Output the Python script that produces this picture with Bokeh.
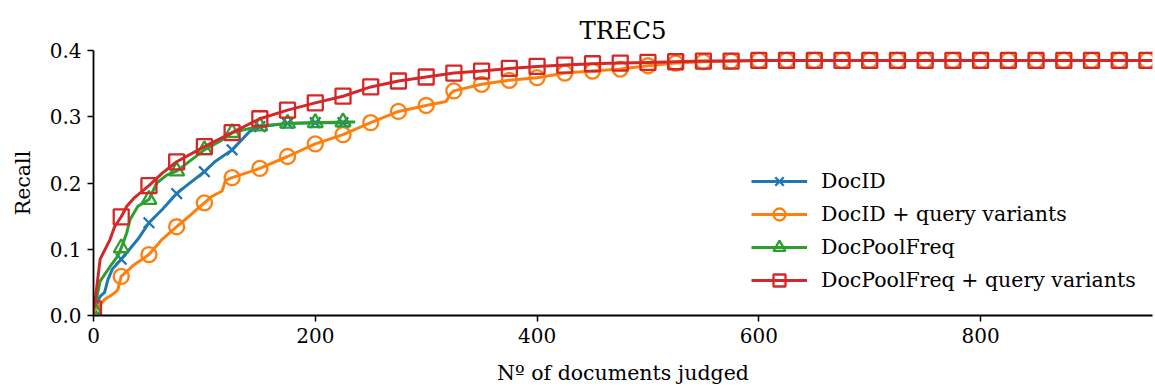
from bokeh.plotting import figure
from bokeh.models import FixedTicker, PrintfTickFormatter, Legend, LegendItem
from bokeh.embed import file_html
from bokeh.resources import INLINE

# ---- data ----
docid_x = [0, 2, 6, 10, 13, 17, 25, 31, 40, 50, 62, 75, 83, 100, 110, 125, 141, 150, 175, 200, 225, 232]
docid_y = [0.010, 0.015, 0.029, 0.035, 0.054, 0.070, 0.085, 0.097, 0.115, 0.140, 0.160, 0.184, 0.195,
           0.217, 0.233, 0.250, 0.278, 0.285, 0.290, 0.291, 0.291, 0.291]

docidq_x = [0, 2, 10, 19, 22, 25, 37, 50, 62, 75, 85, 100, 107, 116, 119, 125, 150, 175, 200, 225, 250,
            275, 300, 318, 322, 325, 350, 375, 400, 425, 450, 475, 500, 525, 550, 575, 600, 625, 650,
            675, 700, 725, 750, 775, 800, 825, 850, 875, 900, 925, 950, 955]
docidq_y = [0.005, 0.010, 0.024, 0.034, 0.039, 0.059, 0.077, 0.092, 0.115, 0.134, 0.148, 0.170, 0.180,
            0.188, 0.204, 0.208, 0.222, 0.240, 0.259, 0.273, 0.291, 0.308, 0.317, 0.323, 0.335, 0.339,
            0.349, 0.355, 0.359, 0.366, 0.369, 0.372, 0.377, 0.381, 0.383, 0.384, 0.385, 0.385, 0.385,
            0.385, 0.385, 0.385, 0.385, 0.385, 0.385, 0.385, 0.385, 0.385, 0.385, 0.385, 0.385, 0.385]

dpf_x = [0, 2, 6, 15, 22, 25, 30, 33, 40, 50, 57, 66, 75, 100, 114, 125, 150, 175, 200, 225, 236]
dpf_y = [0.010, 0.020, 0.052, 0.074, 0.090, 0.102, 0.125, 0.145, 0.165, 0.175, 0.200, 0.212, 0.218,
         0.250, 0.263, 0.276, 0.286, 0.290, 0.291, 0.292, 0.292]

dpfq_x = [0, 2, 6, 15, 19, 25, 30, 37, 50, 62, 75, 100, 125, 150, 175, 200, 225, 250, 275, 300, 325,
          350, 375, 400, 425, 450, 475, 500, 525, 550, 575, 600, 625, 650, 675, 700, 725, 750, 775,
          800, 825, 850, 875, 900, 925, 950, 955]
dpfq_y = [0.010, 0.030, 0.085, 0.115, 0.134, 0.149, 0.165, 0.178, 0.196, 0.215, 0.232, 0.255, 0.276,
          0.297, 0.310, 0.321, 0.331, 0.345, 0.354, 0.360, 0.366, 0.369, 0.373, 0.376, 0.378, 0.380,
          0.381, 0.382, 0.383, 0.384, 0.384, 0.385, 0.385, 0.385, 0.385, 0.385, 0.385, 0.385, 0.385,
          0.385, 0.385, 0.385, 0.385, 0.385, 0.385, 0.385, 0.385]

labels = ["DocID", "DocID + query variants", "DocPoolFreq", "DocPoolFreq + query variants"]
colors = ["#1f77b4", "#ff7f0e", "#2ca02c", "#d62728"]
markers = ["x", "circle", "triangle", "square"]
x_ticks = [0, 200, 400, 600, 800]
y_ticks = [0.0, 0.1, 0.2, 0.3, 0.4]
marker_step = 25

FONT = "DejaVu Serif"

p = figure(width=1155, height=387, output_backend="svg", toolbar_location=None,
           x_range=(0, 955), y_range=(0, 0.4),
           min_border_left=93, min_border_right=3, min_border_top=50, min_border_bottom=71)
p.title.text = "TREC5"
p.title.align = "center"
p.title.text_font = FONT
p.title.text_font_size = "24.5px"
p.title.text_font_style = "normal"
p.title.text_color = "black"
p.title.standoff = 12

p.grid.visible = False
p.outline_line_color = None
p.background_fill_color = "white"

for ax in (p.xaxis[0], p.yaxis[0]):
    ax.axis_line_width = 1.8
    ax.axis_line_color = "black"
    ax.major_tick_line_width = 1.5
    ax.major_tick_out = 6
    ax.major_tick_in = 0
    ax.minor_tick_line_color = None
    ax.major_label_text_font = FONT
    ax.major_label_text_font_size = "20px"
    ax.major_label_text_color = "black"
    ax.axis_label_text_font = FONT
    ax.axis_label_text_font_size = "20.5px"
    ax.axis_label_text_font_style = "normal"
    ax.axis_label_text_color = "black"

p.xaxis.ticker = FixedTicker(ticks=x_ticks)
p.yaxis.ticker = FixedTicker(ticks=y_ticks)
p.yaxis.formatter = PrintfTickFormatter(format="%.1f")
p.xaxis.major_label_standoff = 6
p.yaxis.major_label_standoff = 6
p.xaxis.axis_label = "Nº of documents judged"
p.yaxis.axis_label = "Recall"
p.xaxis.axis_label_standoff = 15
p.yaxis.axis_label_standoff = 12

series = [(docid_x, docid_y), (docidq_x, docidq_y), (dpf_x, dpf_y), (dpfq_x, dpfq_y)]
items = []
for (xs, ys), lab, col, mk in zip(series, labels, colors, markers):
    r1 = p.line(xs, ys, line_color=col, line_width=3)
    mx = [x for x in xs if x % marker_step == 0]
    my = [y for x, y in zip(xs, ys) if x % marker_step == 0]
    size = 15 if mk != "x" else 15
    r2 = p.scatter(mx, my, marker=mk, size=size, line_color=col, line_width=2.3, fill_color=None)
    items.append(LegendItem(label=lab, renderers=[r1, r2]))

legend = Legend(items=items, location=(658, 20))
legend.border_line_color = None
legend.background_fill_alpha = 0
legend.padding = 0
legend.margin = 0
legend.glyph_width = 56
legend.glyph_height = 30
legend.label_height = 24
legend.spacing = 3
legend.label_standoff = 14
legend.label_text_font = FONT
legend.label_text_font_size = "20.5px"
legend.label_text_color = "black"
p.add_layout(legend, "center")

open("out.html", "w").write(file_html(p, INLINE))
